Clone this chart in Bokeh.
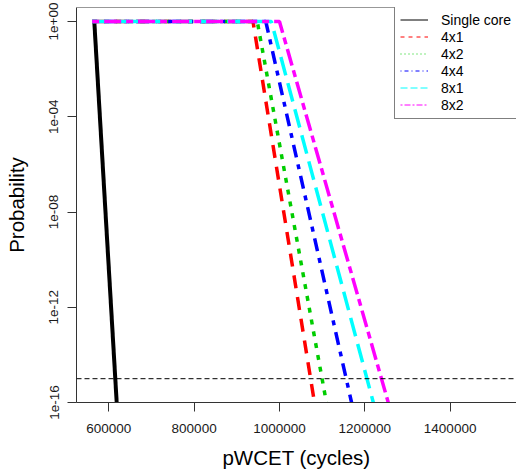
from bokeh.plotting import figure
from bokeh.models import (Range1d, FixedTicker, NumeralTickFormatter, CustomJSTickFormatter,
                          Span, Legend, LegendItem)
from bokeh.embed import file_html
from bokeh.resources import INLINE

# ---- data ----
single_x = [566000, 618500]
single_y = [1.0, 1e-16]

x_4x1 = [561000, 938000, 1082000]
x_4x2 = [561000, 948000, 1110000]
x_4x4 = [561000, 968000, 1169000]
x_8x1 = [561000, 981000, 1220000]
x_8x2 = [561000, 1000000, 1255000]
y_multi = [1.0, 1.0, 1e-16]

threshold = 1e-15

x_ticks = [600000, 800000, 1000000, 1200000, 1400000]
y_ticks = [1e0, 1e-4, 1e-8, 1e-12, 1e-16]

labels = ["Single core", "4x1", "4x2", "4x4", "8x1", "8x2"]
colors = ["black", "#FF0000", "#00CD00", "#0000FF", "#00FFFF", "#FF00FF"]
dashes = ["solid", "13 9", "5 7", "5 7 13 7", "19 8", "7 5 17 5"]
legend_dashes = ["solid", "4 4", "1 3", "1 3 4 3", "7 3", "2 2 6 2"]

FONT = "Liberation Sans"
Y_TOP = 10 ** 0.588

p = figure(width=516, height=473,
           x_range=Range1d(524300, 1555570),
           y_range=Range1d(1e-16, Y_TOP),
           y_axis_type="log",
           output_backend="svg", toolbar_location=None,
           min_border_left=76, min_border_right=0,
           min_border_top=7, min_border_bottom=71)
p.outline_line_color = None
p.xgrid.visible = False
p.ygrid.visible = False
p.background_fill_color = "white"
p.border_fill_color = "white"

series_x = [single_x, x_4x1, x_4x2, x_4x4, x_8x1, x_8x2]
series_y = [single_y, y_multi, y_multi, y_multi, y_multi, y_multi]

# threshold line
p.add_layout(Span(location=threshold, dimension="width", line_color="black",
                  line_width=1, line_dash="5 3"))

for i in range(len(labels)):
    p.line(series_x[i], series_y[i], line_color=colors[i],
           line_width=4 if i == 0 else 3.5, line_dash=dashes[i])

# top border of the box
p.add_layout(Span(location=Y_TOP, dimension="width", line_color="#333333",
                  line_width=1))

# legend with thin sample lines (renderers placed off-screen)
items = []
for i, lab in enumerate(labels):
    r = p.line([0, 1], [1e-40, 1e-40], line_color=colors[i], line_width=1,
               line_dash=legend_dashes[i])
    items.append(LegendItem(label=lab, renderers=[r]))
legend = Legend(items=items, location=(318, 283),
                label_text_font=FONT, label_text_font_size="14px",
                label_text_color="black",
                glyph_width=28, glyph_height=17, label_height=17, spacing=0,
                padding=5, label_standoff=13, margin=0,
                border_line_color="black", border_line_width=1,
                background_fill_color="white", background_fill_alpha=1.0)
p.add_layout(legend)

# axes
for ax in (p.xaxis[0], p.yaxis[0]):
    ax.axis_line_color = "#333333"
    ax.major_tick_line_color = "#333333"
    ax.major_tick_out = 9
    ax.major_tick_in = 0
    ax.minor_tick_line_color = None
    ax.major_label_text_font = FONT
    ax.major_label_text_font_size = "13.5px"
    ax.major_label_text_color = "#1a1a1a"
    ax.axis_label_text_font = FONT
    ax.axis_label_text_font_size = "20.5px"
    ax.axis_label_text_font_style = "normal"
    ax.axis_label_text_color = "black"

p.xaxis.ticker = FixedTicker(ticks=x_ticks)
p.xaxis.formatter = NumeralTickFormatter(format="0")
p.xaxis.axis_label = "pWCET (cycles)"
p.xaxis.major_label_standoff = 12
p.xaxis.axis_label_standoff = 10

p.yaxis.ticker = FixedTicker(ticks=y_ticks)
p.yaxis.formatter = CustomJSTickFormatter(code="""
const e = Math.round(Math.log10(tick));
const s = e < 0 ? '-' : '+';
const a = Math.abs(e);
return '1e' + s + (a < 10 ? '0' + a : '' + a);
""")
p.yaxis.major_label_orientation = "vertical"
p.yaxis.axis_label = "Probability"
p.yaxis.major_label_standoff = 9
p.yaxis.axis_label_standoff = 19

open("out.html", "w").write(file_html(p, INLINE))
